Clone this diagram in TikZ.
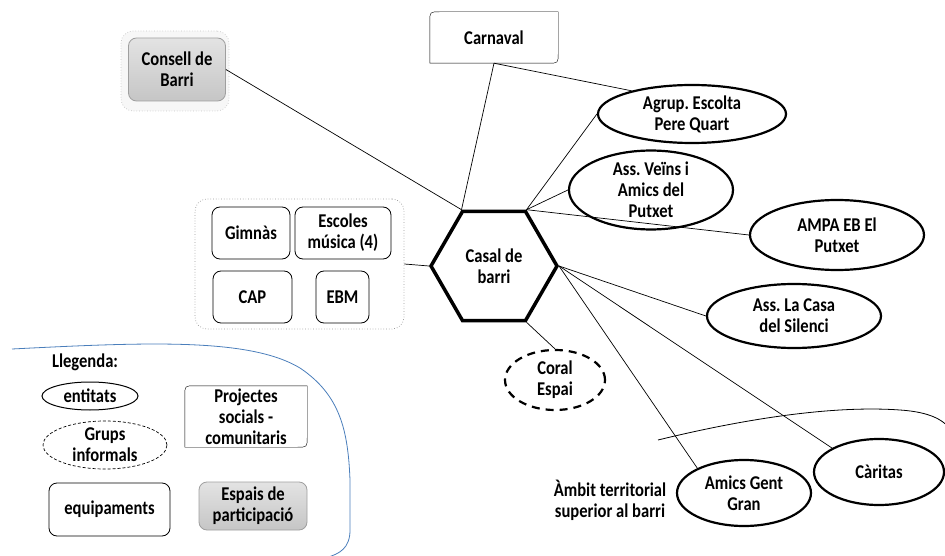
\documentclass[tikz,border=0pt]{standalone}
\usepackage{fontspec}
\setmainfont{Carlito}[FakeStretch=0.85]
\usetikzlibrary{shapes.geometric}

\definecolor{legendblue}{RGB}{74,126,187}

\newcommand{\diagframe}[1]{%
  \draw (#1.south west) -- ([yshift=-10pt]#1.north west) .. controls (#1.north west) .. ([xshift=10pt]#1.north west)
    -- (#1.north east) -- ([yshift=10pt]#1.south east) .. controls (#1.south east) .. ([xshift=-10pt]#1.south east) -- cycle;}

\begin{document}
\frenchspacing
\begin{tikzpicture}[x=1pt,y=-1pt,
  every node/.style={font=\fontsize{19.5}{21}\selectfont\bfseries, align=center, inner sep=0pt},
  hex node/.style={regular polygon, regular polygon sides=6, draw, line width=3.5pt, minimum size=126pt},
  ent node/.style={ellipse, draw, line width=2.2pt},
  eq node/.style={draw, rounded corners=8pt, line width=0.8pt},
  part node/.style={draw=gray!75, rounded corners=8pt, line width=0.8pt, top color=gray!22, bottom color=gray!45},
  group box/.style={draw=gray!80, dotted, rounded corners=12pt, line width=0.7pt}]
  \useasboundingbox (0,0) rectangle (945,556);

  \node[hex node] (casal) at (494,266) {Casal de\\barri};

  \node[group box, fill=gray!6, draw=gray!45, minimum width=108pt, minimum height=80pt] (consellbg) at (175,71) {};
  \node[part node, minimum width=97pt, minimum height=63pt] (consell) at (177,69.5) {Consell de\\Barri};

  \node[minimum width=128pt, minimum height=51pt] (carnaval) at (494,37.5) {Carnaval};
  \diagframe{carnaval}

  \node[group box, minimum width=209pt, minimum height=130pt] (equip) at (299.5,264) {};
  \node[eq node, minimum width=78pt, minimum height=52pt] (gimnas) at (251,233) {Gimnàs};
  \node[eq node, minimum width=96pt, minimum height=52pt] (escoles) at (343,233) {Escoles\\música (4)};
  \node[eq node, minimum width=79pt, minimum height=52pt] (cap) at (252.5,297) {CAP};
  \node[eq node, minimum width=53pt, minimum height=52pt] (ebm) at (342.5,297) {EBM};

  \node[ent node, minimum width=188pt, minimum height=58pt] (agrup) at (692,114) {Agrup. Escolta\\Pere Quart};
  \node[ent node, minimum width=164pt, minimum height=66pt] (veins) at (651,190) {Ass. Veïns i\\Amics del\\Putxet};
  \node[ent node, minimum width=174pt, minimum height=70pt] (ampa) at (837,235) {AMPA EB El\\Putxet};
  \node[ent node, minimum width=174pt, minimum height=64pt] (silenci) at (794,316) {Ass. La Casa\\del Silenci};
  \node[ent node, dash pattern=on 8pt off 6pt, minimum width=100pt, minimum height=60pt] (coral) at (555,380) {Coral\\Espai};
  \node[ent node, minimum width=134pt, minimum height=66pt] (gentgran) at (744,493) {Amics Gent\\Gran};
  \node[ent node, minimum width=130pt, minimum height=66pt] (caritas) at (879,472) {Càritas};

  \node (ambit) at (610,500) {Àmbit territorial\\superior al barri};
  \draw[line width=0.8pt] (658,440) .. controls (740,420) and (830,405) .. (900,410)
    .. controls (930,412) and (945,420) .. (952,432);

  \path[draw, line width=0.7pt]
    (consell.east) edge (casal.120)
    (carnaval.south) edge (casal.120)
                     edge (agrup.159)
    (casal.60) edge (agrup.west)
               edge (veins.west)
               edge (ampa.west)
    (casal.0) edge (silenci.west)
              edge (gentgran.152)
              edge (caritas.153)
    (casal.300) edge (coral.north)
    (casal.180) edge (equip.east);

  \draw[legendblue, line width=0.8pt] (12,349) .. controls (150,342) and (250,338) .. (300,368)
    .. controls (340,395) and (348,430) .. (350,480) -- (350,530) .. controls (350,548) and (340,554) .. (325,558);
  \node (llegenda) at (85,362) {Llegenda:};
  \node[ellipse, draw, line width=1pt, minimum width=96pt, minimum height=28pt] (entitats) at (90,396) {entitats};
  \node[ellipse, draw, densely dashed, line width=0.7pt, minimum width=124pt, minimum height=42pt] (grups) at (105,445) {Grups\\informals};
  \node[minimum width=122pt, minimum height=61pt] (projectes) at (246,416.5) {Projectes\\socials -\\comunitaris};
  \diagframe{projectes}
  \node[eq node, minimum width=121pt, minimum height=53pt] (equipaments) at (109.5,509.5) {equipaments};
  \node[part node, minimum width=108pt, minimum height=48pt] (espais) at (253,506) {Espais de\\participació};
\end{tikzpicture}
\end{document}
